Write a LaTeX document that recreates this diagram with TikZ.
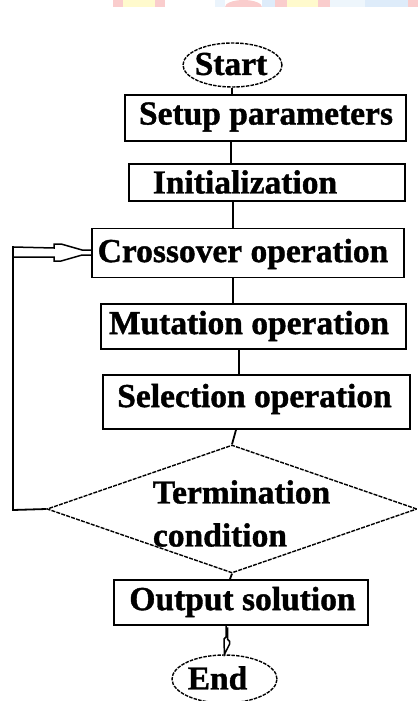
\documentclass[tikz,border=0pt]{standalone}
\usepackage{fontspec}
\setmainfont{Liberation Serif}
\newfontfamily\heavyfont{Liberation Serif Bold}[FakeBold=1.2]
\usetikzlibrary{shapes.geometric}
\definecolor{wpink}{RGB}{250,205,205}
\definecolor{wyellow}{RGB}{255,250,205}
\definecolor{wblue}{RGB}{222,236,250}
\begin{document}
\begin{tikzpicture}[x=1pt,y=-1pt,
  box/.style={draw, line width=1.8pt, inner sep=0pt},
  term/.style={draw, ellipse, dashed, dash pattern=on 3.5pt off 1.2pt, line width=1.4pt, inner sep=0pt},
  txt/.style={inner sep=0pt, font=\fontsize{33.5}{40}\selectfont\heavyfont},
  conn/.style={line width=1.8pt},
  arr/.style={line width=1.5pt, line join=miter}]
\useasboundingbox (0,0) rectangle (418,701);
% faint watermark band at the top
\fill[wpink] (113,0) rectangle (123,7);
\fill[wyellow] (123,0) rectangle (155,7);
\fill[wpink] (155,0) rectangle (165,7);
\fill[wblue!60] (215,0) rectangle (225,7);
\fill[wpink] (225,7) arc[start angle=180, end angle=0, x radius=18.5, y radius=-7] -- cycle;
\fill[wblue] (262,0) rectangle (275,7);
\fill[wpink] (275,0) rectangle (287,7);
\fill[wyellow] (287,0) rectangle (318,7);
\fill[wpink] (318,0) rectangle (330,7);
\fill[wblue!50] (330,0) rectangle (365,7);
\fill[wblue] (365,0) rectangle (408,7);
\fill[wpink] (408,0) rectangle (418,7);
% shapes
\node[term, minimum width=99pt, minimum height=44pt] (start) at (232.5,65) {};
\node[txt] (tstart) at (231,64) {Start};
\node[box, minimum width=281pt, minimum height=46pt] (setup) at (265.5,118) {};
\node[txt] (tsetup) at (266,117) {Setup parameters};
\node[box, minimum width=276pt, minimum height=37pt] (init) at (267,182.5) {};
\node[txt] (tinit) at (245,182) {Initialization};
\node[box, minimum width=312pt, minimum height=49pt] (cross) at (248,253) {};
\node[txt] (tcross) at (243,254) {Crossover operation};
\node[box, minimum width=305pt, minimum height=45pt] (mut) at (253.5,326.5) {};
\node[txt] (tmut) at (249,326) {Mutation operation};
\node[box, minimum width=307pt, minimum height=54pt] (sel) at (256.5,402) {};
\node[txt] (tsel) at (254.5,399) {Selection operation};
\node[draw, diamond, dashed, dash pattern=on 4pt off 1.2pt, line width=1.4pt, inner sep=0pt,
      minimum width=370pt, minimum height=128pt] (cond) at (232,509) {};
\node[txt] (tterm) at (241.5,492) {Termination};
\node[txt] (tcond) at (220,535) {condition};
\node[box, minimum width=254pt, minimum height=45pt] (out) at (241,602.5) {};
\node[txt] (tout) at (242.5,602) {Output solution};
\node[term, minimum width=105pt, minimum height=48pt] (end) at (224.5,679) {};
\node[txt] (tend) at (217.5,678) {End};
% vertical connectors
\coordinate (c1) at (232,0);
\coordinate (c2) at (231,0);
\coordinate (c3) at (233,0);
\coordinate (c4) at (239,0);
\coordinate (c5) at (236,0);
\coordinate (c6) at (230,0);
\draw[conn] (start.south -| c1) -- (setup.north -| c1);
\draw[conn] (setup.south -| c2) -- (init.north -| c2);
\draw[conn] (init.south -| c3) -- (cross.north -| c3);
\draw[conn] (cross.south -| c3) -- (mut.north -| c3);
\draw[conn] (mut.south -| c4) -- (sel.north -| c4);
\draw[conn] (sel.south -| c5) -- (cond.north);
\draw[conn] (cond.south) -- (out.north -| c6);
% loop back
\coordinate (lb) at (13,510);
\coordinate (lt) at (13,246);
\draw[conn] (cond.west) -- (lb) -- (lt);
\draw[arr] (cross.west) ++(0,-3) -- ++(-9,0) -- ++(-21,-6) -- ++(-7,0) -- ++(0,4) -- (13,247);
\draw[arr] (cross.west) ++(0,2) -- ++(-9,0) -- ++(-21,6) -- ++(-7,0) -- ++(0,-4) -- (13,257);
% output to end
\coordinate (ea) at (229,625);
\draw[arr] (ea) ++(-3,0) -- ++(0,12) -- ++(-2,2) -- ++(0,3) -- (end.north) -- ++(5,-10) -- ++(0,-3) -- ++(-2,-2) -- ++(0,-12);
\end{tikzpicture}
\end{document}
